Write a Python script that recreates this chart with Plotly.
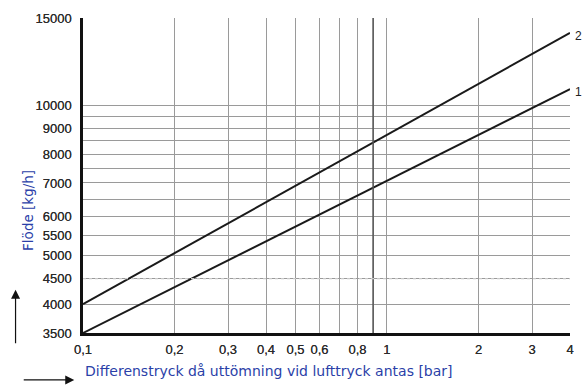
import math
import plotly.graph_objects as go

# Pressure difference (bar) and flow (kg/h) for the two curves
pressure = [0.1, 4]
flow_curve_1 = [3500, 10800]
flow_curve_2 = [4000, 14000]
curve_labels = ["1", "2"]

x_tick_vals = [0.1, 0.2, 0.3, 0.4, 0.5, 0.6, 0.8, 1, 2, 3, 4]
x_tick_text = ["0,1", "0,2", "0,3", "0,4", "0,5", "0,6", "0,8", "1", "2", "3", "4"]
x_minor_vals = [0.7, 0.9]

y_tick_vals = [3500, 4000, 4500, 5000, 5500, 6000, 7000, 8000, 9000, 10000, 15000]
y_tick_text = [str(v) for v in y_tick_vals]
y_minor_vals = [6500, 7500, 8500, 9500]

marked_x = 0.9      # emphasised vertical line
dotted_y = 4500     # lighter dotted horizontal line

GRID = "#9a9a9a"
BLUE = "#2b3fa8"
TICKFONT = dict(family="Liberation Sans", size=13, color="#2a2a2a",
                shadow="0px 0px 0.6px #444")

fig = go.Figure()
for ys, lab in [(flow_curve_1, curve_labels[0]), (flow_curve_2, curve_labels[1])]:
    fig.add_trace(go.Scatter(x=pressure, y=ys, mode="lines",
                             line=dict(color="#1a1a1a", width=2),
                             showlegend=False, cliponaxis=False))
    # annotation positions on log axes are given in log10 units
    fig.add_annotation(x=math.log10(pressure[-1]), y=math.log10(ys[-1]),
                       xref="x", yref="y", text=lab,
                       showarrow=False, xanchor="left", xshift=3, yshift=-3,
                       font=dict(family="Liberation Sans", size=12, color="#222"))

fig.add_shape(type="line", xref="x", yref="paper", x0=marked_x, x1=marked_x,
              y0=0, y1=1, line=dict(color="#555", width=1.5))
fig.add_shape(type="line", xref="paper", yref="y", x0=0, x1=1,
              y0=dotted_y, y1=dotted_y, line=dict(color="#c8c8c8", width=1.2, dash="dot"))

fig.update_xaxes(type="log", range=[-1, 0.60206],
                 tickmode="array", tickvals=x_tick_vals, ticktext=x_tick_text,
                 showgrid=True, gridcolor=GRID, gridwidth=1,
                 minor=dict(tickmode="array", tickvals=x_minor_vals,
                            showgrid=True, gridcolor=GRID, gridwidth=1, ticks=""),
                 showline=True, linecolor="#111", linewidth=2.5,
                 ticks="", zeroline=False, ticklabelstandoff=3,
                 tickfont=TICKFONT)
fig.update_yaxes(type="log", range=[3.544068, 4.176091],
                 tickmode="array", tickvals=y_tick_vals, ticktext=y_tick_text,
                 showgrid=True, gridcolor=GRID, gridwidth=1,
                 minor=dict(tickmode="array", tickvals=y_minor_vals,
                            showgrid=True, gridcolor=GRID, gridwidth=1, ticks=""),
                 showline=True, linecolor="#111", linewidth=2.5,
                 ticks="", zeroline=False, ticklabelstandoff=6,
                 tickfont=TICKFONT)

# Axis titles with arrows
fig.add_annotation(xref="paper", yref="paper", x=-0.134, y=0.39,
                   text="Flöde [kg/h]", textangle=-90, showarrow=False,
                   font=dict(family="DejaVu Sans", size=13.5, color=BLUE))
fig.add_annotation(xref="paper", yref="paper", x=-0.1385, y=0.137, text="",
                   showarrow=True, ax=0, ay=55, arrowhead=2, arrowsize=1.5,
                   arrowwidth=1.2, arrowcolor="#111")
fig.add_annotation(xref="paper", yref="paper", x=0.0, y=-0.152,
                   text="Differenstryck då uttömning vid lufttryck antas [bar]",
                   showarrow=False, xanchor="left",
                   font=dict(family="DejaVu Sans", size=14, color=BLUE))
fig.add_annotation(xref="paper", yref="paper", x=-0.018, y=-0.149, text="",
                   showarrow=True, ax=-52, ay=0, arrowhead=2, arrowsize=1.5,
                   arrowwidth=1.2, arrowcolor="#111")

fig.update_layout(width=584, height=390, margin=dict(l=83, r=10, t=18, b=57),
                  plot_bgcolor="white", paper_bgcolor="white")
fig.write_html("out.html")
